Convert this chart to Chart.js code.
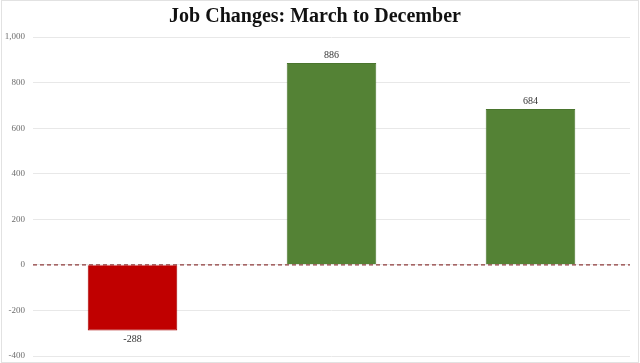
<!DOCTYPE html>
<html>
<head>
<meta charset="utf-8">
<script src="https://cdn.jsdelivr.net/npm/chart.js@4"></script>
<style>
  html, body { margin: 0; padding: 0; background: #ffffff; }
  #wrap { width: 640px; height: 363px; position: relative; }
</style>
</head>
<body>
<div id="wrap"><canvas id="chart-jobs"></canvas></div>
<script>
// Chart data (x labels are cut off in the source image, so they stay hidden)
const categories = ['Series 1', 'Series 2', 'Series 3'];
const jobChanges = [-288, 886, 684];
const barColors = ['#c00000', '#548235', '#548235'];
const barEdges = ['#a80000', '#4a752e', '#4a752e'];
const yTicks = { min: -400, max: 1000, step: 200 };

// dashed zero line + value labels + faint frame
const jobsPlugin = {
    id: 'jobsPlugin',
    beforeDatasetsDraw(chart) {
        const { ctx, chartArea, scales } = chart;
        const y0 = scales.y.getPixelForValue(0);
        ctx.save();
        ctx.strokeStyle = '#8e3b3b';
        ctx.lineWidth = 1.3;
        ctx.setLineDash([4, 3]);
        ctx.beginPath();
        ctx.moveTo(chartArea.left, y0);
        ctx.lineTo(chartArea.right, y0);
        ctx.stroke();
        ctx.restore();
    },
    afterDatasetsDraw(chart) {
        const { ctx } = chart;
        const meta = chart.getDatasetMeta(0);
        ctx.save();
        ctx.font = '10px "Liberation Serif", serif';
        ctx.fillStyle = '#333333';
        ctx.textAlign = 'center';
        meta.data.forEach((bar, i) => {
            const v = jobChanges[i];
            if (v >= 0) {
                ctx.textBaseline = 'bottom';
                ctx.fillText(String(v), bar.x, bar.y - 3);
            } else {
                ctx.textBaseline = 'top';
                ctx.fillText(String(v), bar.x, bar.y + 4);
            }
        });
        ctx.strokeStyle = '#e2e2e2';
        ctx.lineWidth = 1;
        ctx.strokeRect(1.5, 0.5, chart.width - 3, chart.height - 1);
        ctx.restore();
    }
};

new Chart(document.getElementById('chart-jobs').getContext('2d'), {
    type: 'bar',
    data: {
        labels: categories,
        datasets: [{
            data: jobChanges,
            backgroundColor: barColors,
            borderColor: barEdges,
            borderWidth: 1,
            barPercentage: 0.45,
            categoryPercentage: 1
        }]
    },
    options: {
        responsive: true,
        maintainAspectRatio: false,
        animation: false,
        layout: { padding: { left: 0, right: 10, bottom: 7 } },
        plugins: {
            legend: { display: false },
            tooltip: { enabled: false },
            title: {
                display: true,
                text: 'Job Changes: March to December',
                color: '#111111',
                font: { family: '"Liberation Serif", serif', size: 20, weight: 'bold', lineHeight: 1.2 },
                padding: { top: 5, bottom: 8 }
            }
        },
        scales: {
            x: { display: false },
            y: {
                min: yTicks.min,
                max: yTicks.max,
                afterFit(scale) {
                    scale.width = 33;
                    scale.paddingTop = 0;
                    scale.paddingBottom = 0;
                },
                grid: { color: '#e8e8e8', drawTicks: false },
                border: { display: false },
                ticks: {
                    stepSize: yTicks.step,
                    padding: 8,
                    color: '#6e6e6e',
                    font: { family: '"Liberation Serif", serif', size: 9 }
                }
            }
        }
    },
    plugins: [jobsPlugin]
});
</script>
</body>
</html>
